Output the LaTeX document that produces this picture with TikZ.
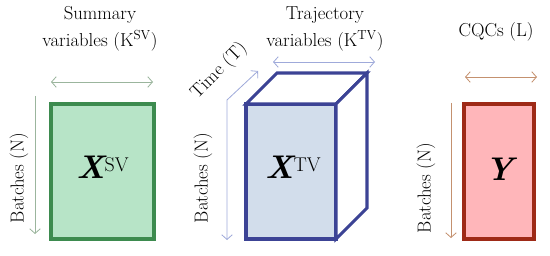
\documentclass[tikz,border=0pt]{standalone}
\usepackage{tikz}
\usetikzlibrary{arrows.meta,calc}
\definecolor{svfill}{HTML}{B7E4C7}
\definecolor{svline}{HTML}{3D8B4F}
\definecolor{svarrow}{HTML}{9BB59D}
\definecolor{tvfill}{HTML}{D2DDEB}
\definecolor{tvline}{HTML}{3C4395}
\definecolor{tvarrow}{HTML}{9FAADA}
\definecolor{yfill}{HTML}{FFB6BA}
\definecolor{yline}{HTML}{9E2A17}
\definecolor{yarrow}{HTML}{C4916F}
\newcommand{\matlabel}[2]{{\fontsize{28}{30}\selectfont\bfseries\itshape #1}%
  \raisebox{6pt}{\fontsize{17}{18}\selectfont #2}}

\begin{document}
\begin{tikzpicture}[x=0.03cm,y=-0.03cm,font=\fontsize{16}{23}\selectfont,
    dimarrow/.style={line width=0.7pt,{Straight Barb[length=4pt,width=9pt]}-{Straight Barb[length=4pt,width=9pt]}},
    downarrow/.style={line width=0.7pt,-{Straight Barb[length=4pt,width=9pt]}},
    matbox/.style={line width=2.6pt,line join=miter}]
  \useasboundingbox (0,0) rectangle (550,256);
  % summary variables
  \coordinate (sv-nw) at (51,104);
  \coordinate (sv-se) at (154,239);
  \draw[matbox,draw=svline,fill=svfill] (sv-nw) rectangle (sv-se);
  \node (sv) at ($(sv-nw)!0.5!(sv-se)+(0,-4)$) {\matlabel{X}{SV}};
  \node[align=center,inner sep=0pt] (sv-title) at (100,29) {Summary\\variables (K\textsuperscript{SV})};
  \coordinate (sv-l) at (51,82);
  \coordinate (sv-r) at (153,82);
  \draw[dimarrow,svarrow] (sv-l) -- (sv-r);
  \coordinate (sv-top) at (35,96);
  \coordinate (sv-bot) at (35,234);
  \draw[downarrow,svarrow] (sv-top) -- (sv-bot);
  \node[rotate=90,inner sep=0pt] (sv-batch) at (19,178) {Batches (N)};
  % trajectory variables
  \coordinate (tv-nw) at (246,104);
  \coordinate (tv-ne) at (336,104);
  \coordinate (tv-se) at (336,239);
  \coordinate (tv-sw) at (246,239);
  \coordinate (tv-bnw) at (277,73);
  \coordinate (tv-bne) at (367,73);
  \coordinate (tv-bse) at (367,208);
  \draw[matbox,draw=tvline,fill=tvfill] (tv-nw) rectangle (tv-se);
  \draw[matbox,draw=tvline,fill=white] (tv-nw) -- (tv-bnw) -- (tv-bne) -- (tv-ne) -- cycle;
  \draw[matbox,draw=tvline,fill=white] (tv-ne) -- (tv-bne) -- (tv-bse) -- (tv-se) -- cycle;
  \node (tv) at ($(tv-nw)!0.5!(tv-se)+(2,-4)$) {\matlabel{X}{TV}};
  \node[align=center,inner sep=0pt] (tv-title) at (325,29) {Trajectory\\variables (K\textsuperscript{TV})};
  \coordinate (tv-l) at (273,62);
  \coordinate (tv-r) at (375,62);
  \draw[dimarrow,tvarrow] (tv-l) -- (tv-r);
  \coordinate (tv-bot) at (227,240);
  \coordinate (tv-corner) at (227,100);
  \coordinate (tv-time) at (258,71);
  \draw[dimarrow,tvarrow] (tv-bot) -- (tv-corner) -- (tv-time);
  \node[rotate=45,inner sep=0pt] (tv-timelabel) at (219,71) {Time (T)};
  \node[rotate=90,inner sep=0pt] (tv-batch) at (203,178) {Batches (N)};
  % CQCs
  \coordinate (y-nw) at (464,104);
  \coordinate (y-se) at (534,239);
  \draw[matbox,draw=yline,fill=yfill] (y-nw) rectangle (y-se);
  \node (y) at ($(y-nw)!0.5!(y-se)+(0,-2)$) {{\fontsize{28}{30}\selectfont\bfseries\itshape Y}};
  \node[inner sep=0pt] (y-title) at (496,32) {CQCs (L)};
  \coordinate (y-l) at (465,77);
  \coordinate (y-r) at (537,77);
  \draw[dimarrow,yarrow] (y-l) -- (y-r);
  \coordinate (y-top) at (451,103);
  \coordinate (y-bot) at (451,238);
  \draw[downarrow,yarrow] (y-top) -- (y-bot);
  \node[rotate=90,inner sep=0pt] (y-batch) at (426,188) {Batches (N)};
\end{tikzpicture}
\end{document}
